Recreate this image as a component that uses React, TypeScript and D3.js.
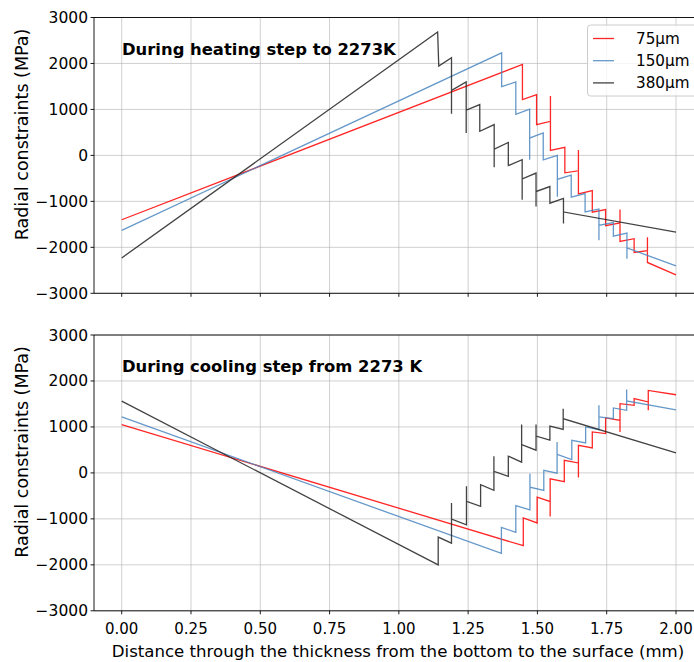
import React from 'react';
import * as d3 from 'd3';

// [distance (mm), stress (MPa)]
const heating75: [number, number][] = [
  [0, -1400], [1.446, 1980], [1.446, 1214], [1.497, 1323], [1.497, 668], [1.547, 741],
  [1.547, 1290], [1.547, 110], [1.599, 175], [1.599, -380], [1.648, -335], [1.648, 115],
  [1.648, -837], [1.698, -764], [1.698, -1237], [1.746, -1179], [1.746, -1528], [1.798, -1470],
  [1.798, -1179], [1.798, -1870], [1.849, -1812], [1.849, -2110], [1.897, -2074], [1.897, -1783],
  [1.897, -2329], [2.0, -2598],
];
const heating150: [number, number][] = [
  [0, -1630], [1.371, 2230], [1.371, 1495], [1.422, 1597], [1.422, 895], [1.472, 1004],
  [1.472, -95], [1.472, 378], [1.521, 488], [1.521, -95], [1.572, 0], [1.572, -900],
  [1.572, -520], [1.622, -430], [1.622, -910], [1.672, -830], [1.672, -1230], [1.722, -1165],
  [1.722, -1848], [1.722, -1520], [1.774, -1460], [1.774, -1757], [1.823, -1692], [1.823, -2248],
  [1.823, -2012], [2.0, -2405],
];
const heating380: [number, number][] = [
  [0, -2230], [1.14, 2685], [1.144, 1943], [1.19, 2125], [1.19, 905], [1.19, 1415],
  [1.243, 1597], [1.243, 488], [1.243, 986], [1.292, 1106], [1.292, 524], [1.344, 670],
  [1.344, -260], [1.344, 134], [1.395, 280], [1.395, -222], [1.445, -95], [1.445, -967],
  [1.445, -513], [1.495, -385], [1.495, -1113], [1.495, -786], [1.545, -677], [1.545, -1040],
  [1.594, -935], [1.594, -1484], [1.594, -1230], [2.0, -1670],
];
const cooling75: [number, number][] = [
  [0, 1050], [1.449, -1584], [1.449, -980], [1.499, -1089], [1.499, -529], [1.546, -623],
  [1.546, -951], [1.546, -128], [1.597, -190], [1.597, 274], [1.648, 217], [1.648, -101],
  [1.648, 601], [1.698, 544], [1.698, 891], [1.746, 855], [1.746, 1196], [1.798, 1145],
  [1.798, 891], [1.798, 1507], [1.849, 1471], [1.849, 1616], [1.9, 1543], [1.9, 1362],
  [1.9, 1795], [2.0, 1700],
];
const cooling150: [number, number][] = [
  [0, 1220], [1.37, -1752], [1.37, -1184], [1.422, -1293], [1.422, -711], [1.473, -805],
  [1.473, -19], [1.473, -310], [1.523, -383], [1.523, 54], [1.571, -5], [1.571, 672],
  [1.571, 403], [1.624, 290], [1.624, 710], [1.674, 652], [1.674, 1000], [1.722, 942],
  [1.722, 1471], [1.722, 1217], [1.774, 1181], [1.774, 1413], [1.822, 1362], [1.822, 1812],
  [1.822, 1565], [2.0, 1370],
];
const cooling380: [number, number][] = [
  [0, 1560], [1.142, -2000], [1.142, -1397], [1.19, -1528], [1.19, -655], [1.19, -1004],
  [1.244, -1128], [1.244, -292], [1.244, -620], [1.295, -729], [1.295, -255], [1.343, -379],
  [1.343, 363], [1.343, 36], [1.395, -73], [1.395, 363], [1.443, 233], [1.443, 1055],
  [1.443, 618], [1.495, 494], [1.495, 1055], [1.495, 800], [1.545, 713], [1.545, 1018],
  [1.593, 946], [1.593, 1397], [1.593, 1179], [2.0, 437],
];

const seriesNames = ['75µm', '150µm', '380µm'];
const seriesColors = ['#ff0000', '#4a86c0', '#222222'];
const xTicks = [0, 0.25, 0.5, 0.75, 1, 1.25, 1.5, 1.75, 2];
const yTicks = [-3000, -2000, -1000, 0, 1000, 2000, 3000];
const yTickLabels = ['−3000', '−2000', '−1000', '0', '1000', '2000', '3000'];

const W = 694;
const H = 662;
const font = 'DejaVu Sans, sans-serif';

const x = d3.scaleLinear().domain([-0.1, 2.1]).range([94, 703.7]);
const line = d3.line<[number, number]>();

function Panel({ top, bottom, title, data, showXLabels, legend }: any) {
  const y = d3.scaleLinear().domain([-3000, 3000]).range([bottom, top]);
  line.x(d => x(d[0])).y(d => y(d[1]));
  return (
    <g>
      {xTicks.map(t => (
        <line key={'gx' + t} x1={x(t)} x2={x(t)} y1={top} y2={bottom} stroke="#b0b0b0" strokeOpacity={0.6} strokeWidth={1} />
      ))}
      {yTicks.map(t => (
        <line key={'gy' + t} x1={x(-0.1)} x2={x(2.1)} y1={y(t)} y2={y(t)} stroke="#b0b0b0" strokeOpacity={0.6} strokeWidth={1} />
      ))}
      {data.map((s: [number, number][], i: number) => (
        <path key={i} d={line(s) || ''} fill="none" stroke={seriesColors[i]} strokeOpacity={0.85} strokeWidth={1.3} />
      ))}
      <text x={122} y={top + 37} fontFamily={font} fontSize={16.4} fontWeight="bold" fill="#000">{title}</text>
      {/* spines */}
      <line x1={x(-0.1)} x2={x(-0.1)} y1={top} y2={bottom} stroke="#000" strokeWidth={0.9} />
      <line x1={x(-0.1)} x2={x(2.1)} y1={bottom} y2={bottom} stroke="#000" strokeWidth={0.9} />
      <line x1={x(-0.1)} x2={x(2.1)} y1={top} y2={top} stroke="#000" strokeWidth={0.9} />
      {yTicks.map((t, i) => (
        <g key={'ty' + t}>
          <line x1={x(-0.1) - 3.5} x2={x(-0.1)} y1={y(t)} y2={y(t)} stroke="#000" strokeWidth={0.9} />
          <text x={x(-0.1) - 6} y={y(t) + 5.5} textAnchor="end" fontFamily={font} fontSize={15.5} fill="#000">{yTickLabels[i]}</text>
        </g>
      ))}
      {xTicks.map(t => (
        <g key={'tx' + t}>
          <line x1={x(t)} x2={x(t)} y1={bottom} y2={bottom + 3.5} stroke="#000" strokeWidth={0.9} />
          {showXLabels && (
            <text x={x(t)} y={bottom + 23.5} textAnchor="middle" fontFamily={font} fontSize={15} fill="#000">{t.toFixed(2)}</text>
          )}
        </g>
      ))}
      <text transform={`translate(28,${top + 117}) rotate(-90)`} textAnchor="middle" fontFamily={font} fontSize={17.5} fill="#000">
        Radial constraints (MPa)
      </text>
      {legend && (
        <g>
          <rect x={587.5} y={25} width={130} height={71} rx={3} fill="#fff" fillOpacity={0.8} stroke="#cccccc" strokeWidth={1} />
          {seriesNames.map((n, i) => (
            <g key={n}>
              <line x1={593} x2={614} y1={38.5 + i * 22.2} y2={38.5 + i * 22.2} stroke={seriesColors[i]} strokeOpacity={0.85} strokeWidth={1.3} />
              <text x={636} y={44} fontFamily={font} fontSize={15.2} fill="#000" transform={`translate(0,${i * 22.2})`}>{n}</text>
            </g>
          ))}
        </g>
      )}
    </g>
  );
}

export default function App() {
  return (
    <svg width={W} height={H} style={{ position: 'absolute', left: 0, top: 0, background: '#fff' }}>
      <rect width={W} height={H} fill="#fff" />
      <Panel top={17.5} bottom={293.3} title="During heating step to 2273K" data={[heating75, heating150, heating380]} showXLabels={false} legend={true} />
      <Panel top={335} bottom={610.8} title="During cooling step from 2273 K" data={[cooling75, cooling150, cooling380]} showXLabels={true} legend={false} />
      <text x={398} y={657} textAnchor="middle" fontFamily={font} fontSize={16.6} fill="#000">
        Distance through the thickness from the bottom to the surface (mm)
      </text>
    </svg>
  );
}
